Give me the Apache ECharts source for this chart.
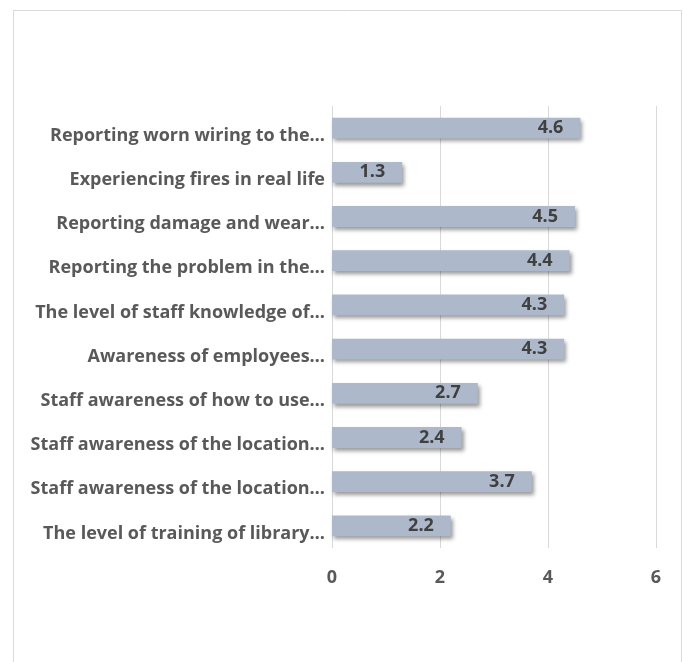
<!DOCTYPE html>
<html>
<head>
<meta charset="utf-8">
<script src="https://cdn.jsdelivr.net/npm/echarts@6/dist/echarts.min.js"></script>
<style>
html,body{margin:0;padding:0;background:#fff;}
#chart{width:683px;height:662px;}
</style>
</head>
<body>
<div id="chart"></div>
<script>
var categories = [
  "Reporting worn wiring to the…",
  "Experiencing fires in real life",
  "Reporting damage and wear…",
  "Reporting the problem in the…",
  "The level of staff knowledge of…",
  "Awareness of employees…",
  "Staff awareness of how to use…",
  "Staff awareness of the location…",
  "Staff awareness of the location…",
  "The level of training of library…"
];
var values = [4.6, 1.3, 4.5, 4.4, 4.3, 4.3, 2.7, 2.4, 3.7, 2.2];
var xTicks = [0, 2, 4, 6];

var chart = echarts.init(document.getElementById('chart'), null, {renderer: 'canvas'});
var fontFam = '"Open Sans", "Noto Sans", sans-serif';
chart.setOption({
  animation: false,
  backgroundColor: '#ffffff',
  graphic: [{
    type: 'rect',
    shape: {x: 13.5, y: 10.5, width: 668, height: 700},
    style: {fill: 'none', stroke: '#d9d9d9', lineWidth: 1},
    silent: true
  }],
  grid: {left: 332, right: 27, top: 106, bottom: 114, containLabel: false},
  xAxis: {
    type: 'value',
    min: xTicks[0],
    max: xTicks[xTicks.length - 1],
    interval: 2,
    axisLine: {show: false},
    axisTick: {show: false},
    splitLine: {show: true, lineStyle: {color: '#d9d9d9', width: 1}},
    axisLabel: {color: '#595959', fontWeight: 'bold', fontSize: 18, fontFamily: fontFam, margin: 21}
  },
  yAxis: {
    type: 'category',
    inverse: true,
    data: categories,
    axisLine: {show: false},
    axisTick: {show: false},
    axisLabel: {color: '#595959', fontWeight: 'bold', fontSize: 18, fontFamily: fontFam, margin: 7, verticalAlign: 'top', lineHeight: 15}
  },
  series: [{
    type: 'bar',
    data: values,
    barCategoryGap: '53%',
    itemStyle: {
      color: '#adb9ca',
      shadowColor: 'rgba(0,0,0,0.4)',
      shadowBlur: 4,
      shadowOffsetX: 2,
      shadowOffsetY: 3
    },
    label: {
      show: true,
      position: 'insideRight',
      distance: 17,
      color: '#404040',
      fontWeight: 'bold',
      fontSize: 18,
      fontFamily: fontFam,
      formatter: function (p) { return p.value.toFixed(1); }
    }
  }]
});
</script>
</body>
</html>
